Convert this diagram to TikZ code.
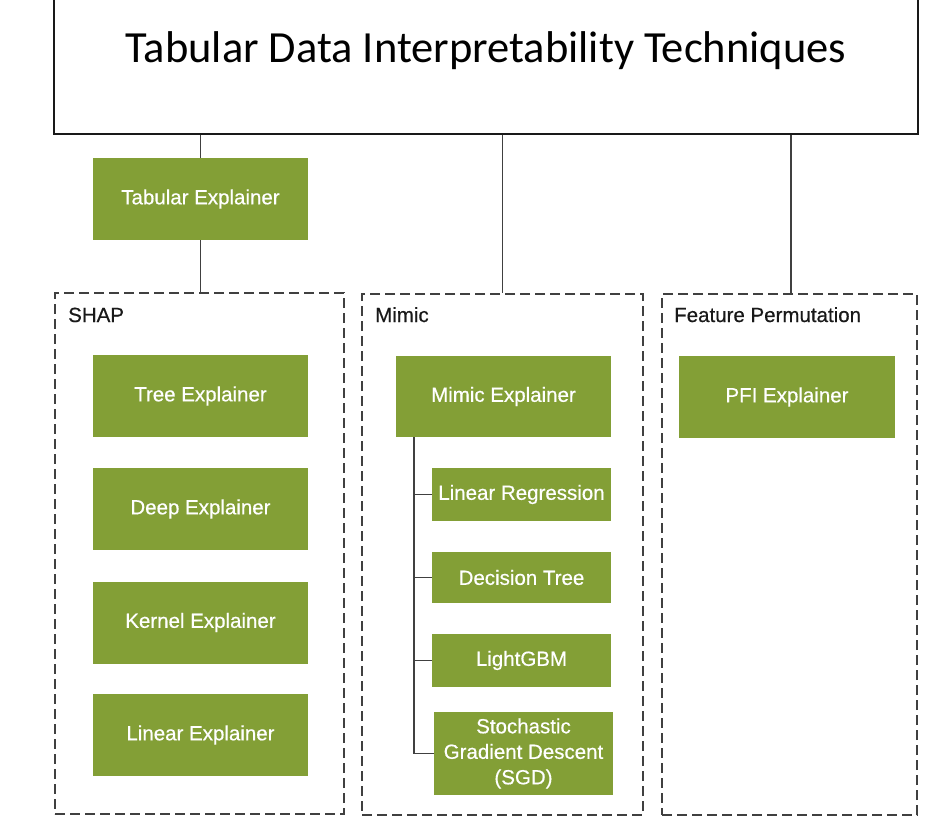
\documentclass[tikz,border=0pt]{standalone}
\usepackage{fontspec}
\setsansfont{Liberation Sans}
\newfontfamily\boxfont[FakeBold=0.5]{Liberation Sans}
\newfontfamily\titlefont{Carlito}
\definecolor{leaf}{HTML}{839F36}
\definecolor{edge}{HTML}{404040}
\tikzset{
  gbox/.style={fill=leaf, text=white, font=\boxfont\fontsize{20.5}{23}\selectfont, inner sep=0pt, align=center},
  groupbox/.style={draw=edge, line width=1.8pt, dash pattern=on 10pt off 5pt, inner sep=0pt},
  grouplabel/.style={font=\boxfont\fontsize{20.5}{24}\selectfont, text=black!90, anchor=base west, inner sep=0pt},
  conn/.style={draw=edge, line width=1.8pt}
}
\begin{document}
\begin{tikzpicture}[x=1pt, y=-1pt]
\useasboundingbox (0,0) rectangle (943,817);
\fill[white] (0,0) rectangle (943,817);
\clip (0,0) rectangle (943,817);
% title
\node[draw=black!90, line width=1.4pt, minimum width=864pt, minimum height=164pt, inner sep=0pt] (title) at (486,52) {};
\node[font=\titlefont\fontsize{44.5}{50}\selectfont, inner sep=0pt, anchor=base] (titletext) at (486,62) {Tabular Data Interpretability Techniques};
% group boxes
\node[groupbox, minimum width=289pt, minimum height=521pt] (shap) at (199.5,553.5) {};
\node[groupbox, minimum width=281pt, minimum height=521pt] (mimic) at (502.5,554.5) {};
\node[groupbox, minimum width=255pt, minimum height=521pt] (fp) at (789.5,554.5) {};
\node[grouplabel] (shaplabel) at (68,322) {SHAP};
\node[grouplabel] (mimiclabel) at (375,322) {Mimic};
\node[grouplabel] (fplabel) at (674,322) {Feature Permutation};
% green boxes
\node[gbox, minimum width=215pt, minimum height=82pt] (tab) at (200.5,199) {Tabular Explainer};
\node[gbox, minimum width=215pt, minimum height=82pt] (tree) at (200.5,396) {Tree Explainer};
\node[gbox, minimum width=215pt, minimum height=82pt] (deep) at (200.5,509) {Deep Explainer};
\node[gbox, minimum width=215pt, minimum height=82pt] (kernel) at (200.5,622.5) {Kernel Explainer};
\node[gbox, minimum width=215pt, minimum height=82pt] (linear) at (200.5,735) {Linear Explainer};
\node[gbox, minimum width=215pt, minimum height=81pt] (mexp) at (503.5,396.5) {Mimic Explainer};
\node[gbox, minimum width=179pt, minimum height=53pt] (lr) at (521.5,494.5) {Linear Regression};
\node[gbox, minimum width=179pt, minimum height=51pt] (dt) at (521.5,577.5) {Decision Tree};
\node[gbox, minimum width=179pt, minimum height=53pt] (lgbm) at (521.5,660.5) {LightGBM};
\node[gbox, minimum width=179pt, minimum height=83pt, font=\boxfont\fontsize{20.5}{25.5}\selectfont] (sgd) at (523.5,753.5) {Stochastic\\Gradient Descent\\(SGD)};
\node[gbox, minimum width=216pt, minimum height=82pt] (pfi) at (787,397) {PFI Explainer};
% connectors
\draw[conn] (title.south -| tab.north) -- (tab.north);
\draw[conn] (tab.south) -- (tab.south |- shap.north);
\draw[conn] (title.south -| mimic.north) -- (mimic.north);
\draw[conn] ([xshift=1.5pt]title.south -| fp.north) -- ([xshift=1.5pt]fp.north);
\coordinate (trunk) at ([xshift=18pt]mexp.south west);
\draw[conn] (trunk) |- (sgd.west);
\draw[conn] (trunk |- lr.west) -- (lr.west);
\draw[conn] (trunk |- dt.west) -- (dt.west);
\draw[conn] (trunk |- lgbm.west) -- (lgbm.west);
\end{tikzpicture}
\end{document}
